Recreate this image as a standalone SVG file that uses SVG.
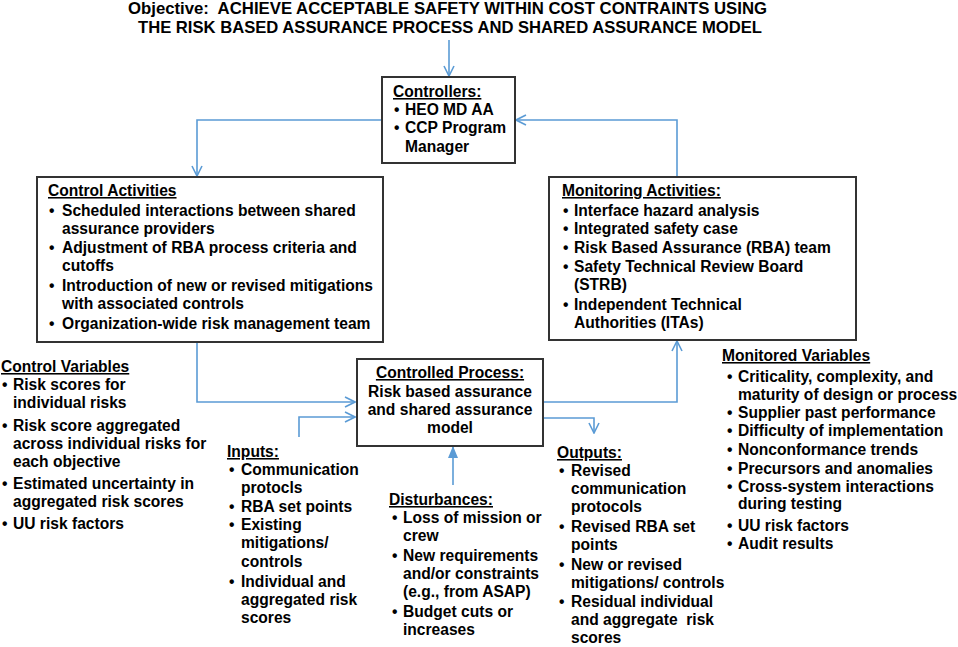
<svg xmlns="http://www.w3.org/2000/svg" width="958" height="647" viewBox="0 0 958 647">
<style>
text { font-family: "Liberation Sans", Arial, Helvetica, sans-serif; font-weight: bold; font-size: 15.6px; fill: #000; }
.h { text-decoration: underline; }
.title { font-size: 16.5px; }
.box { fill: #fff; stroke: #333; stroke-width: 2; }
.c { fill: none; stroke: #5b9bd5; stroke-width: 1.6; }
.mid { text-anchor: middle; }
</style>
<defs>
<marker id="v" viewBox="0 0 12 12" refX="11" refY="6" markerWidth="12" markerHeight="12" markerUnits="userSpaceOnUse" orient="auto">
<path d="M1,1 L11,6 L1,11" fill="none" stroke="#5b9bd5" stroke-width="1.6"/>
</marker>
<marker id="tri" viewBox="0 0 12 12" refX="11" refY="6" markerWidth="12" markerHeight="12" markerUnits="userSpaceOnUse" orient="auto">
<path d="M0,1 L12,6 L0,11 Z" fill="#5b9bd5"/>
</marker>
</defs>

<g id="title">
<text class="title" x="128" y="14" textLength="639" lengthAdjust="spacingAndGlyphs" xml:space="preserve">Objective:  ACHIEVE ACCEPTABLE SAFETY WITHIN COST CONTRAINTS USING</text>
<text class="title" x="138" y="33" textLength="624" lengthAdjust="spacingAndGlyphs">THE RISK BASED ASSURANCE PROCESS AND SHARED ASSURANCE MODEL</text>
</g>

<g id="connectors">
<path class="c" d="M449,40 V76" marker-end="url(#v)"/>
<path class="c" d="M381,120 H197 V176" marker-end="url(#v)"/>
<path class="c" d="M677,177 V120 H516" marker-end="url(#v)"/>
<path class="c" d="M197,343 V402 H355" marker-end="url(#v)"/>
<path class="c" d="M299,437 V417 H355" marker-end="url(#v)"/>
<path class="c" d="M544,402 H677 V341" marker-end="url(#v)"/>
<path class="c" d="M544,418 H594 V433" marker-end="url(#v)"/>
<path class="c" d="M453,485 V447" marker-end="url(#tri)"/>
</g>

<g id="controllers">
<rect class="box" x="382" y="77" width="133" height="86"/>
<text class="h" x="393" y="97">Controllers:</text>
<text x="394" y="115">•</text><text x="405" y="115">HEO MD AA</text>
<text x="394" y="133">•</text><text x="405" y="133">CCP Program</text>
<text x="405" y="152">Manager</text>
</g>

<g id="control-activities">
<rect class="box" x="37" y="177" width="346" height="165"/>
<text class="h" x="48" y="196">Control Activities</text>
<text x="49" y="216">•</text><text x="62" y="216">Scheduled interactions between shared</text>
<text x="62" y="234">assurance providers</text>
<text x="49" y="253">•</text><text x="62" y="253">Adjustment of RBA process criteria and</text>
<text x="62" y="271">cutoffs</text>
<text x="49" y="291">•</text><text x="62" y="291">Introduction of new or revised mitigations</text>
<text x="62" y="309">with associated controls</text>
<text x="49" y="329">•</text><text x="62" y="329">Organization-wide risk management team</text>
</g>

<g id="monitoring-activities">
<rect class="box" x="549" y="177" width="307" height="163"/>
<text class="h" x="562" y="196">Monitoring Activities:</text>
<text x="563" y="216">•</text><text x="574" y="216">Interface hazard analysis</text>
<text x="563" y="234">•</text><text x="574" y="234">Integrated safety case</text>
<text x="563" y="253">•</text><text x="574" y="253">Risk Based Assurance (RBA) team</text>
<text x="563" y="272">•</text><text x="574" y="272">Safety Technical Review Board</text>
<text x="574" y="290">(STRB)</text>
<text x="563" y="310">•</text><text x="574" y="310">Independent Technical</text>
<text x="574" y="328">Authorities (ITAs)</text>
</g>

<g id="controlled-process">
<rect class="box" x="357" y="359" width="186" height="87"/>
<text class="h mid" x="450" y="378">Controlled Process:</text>
<text class="mid" x="450" y="397">Risk based assurance</text>
<text class="mid" x="450" y="415">and shared assurance</text>
<text class="mid" x="450" y="433">model</text>
</g>

<g id="control-variables">
<text class="h" x="1" y="372">Control Variables</text>
<text x="2" y="390">•</text><text x="13" y="390">Risk scores for</text>
<text x="13" y="408">individual risks</text>
<text x="2" y="431">•</text><text x="13" y="431">Risk score aggregated</text>
<text x="13" y="449">across individual risks for</text>
<text x="13" y="467">each objective</text>
<text x="2" y="489">•</text><text x="13" y="489">Estimated uncertainty in</text>
<text x="13" y="507">aggregated risk scores</text>
<text x="2" y="529">•</text><text x="13" y="529">UU risk factors</text>
</g>

<g id="monitored-variables">
<text class="h" x="722" y="361">Monitored Variables</text>
<text x="727" y="382">•</text><text x="738" y="382">Criticality, complexity, and</text>
<text x="738" y="400">maturity of design or process</text>
<text x="727" y="418">•</text><text x="738" y="418">Supplier past performance</text>
<text x="727" y="436">•</text><text x="738" y="436">Difficulty of implementation</text>
<text x="727" y="455">•</text><text x="738" y="455">Nonconformance trends</text>
<text x="727" y="474">•</text><text x="738" y="474">Precursors and anomalies</text>
<text x="727" y="492">•</text><text x="738" y="492">Cross-system interactions</text>
<text x="738" y="509">during testing</text>
<text x="727" y="531">•</text><text x="738" y="531">UU risk factors</text>
<text x="727" y="549">•</text><text x="738" y="549">Audit results</text>
</g>

<g id="inputs">
<text class="h" x="227" y="457">Inputs:</text>
<text x="229" y="475">•</text><text x="241" y="475">Communication</text>
<text x="241" y="493">protocls</text>
<text x="229" y="512">•</text><text x="241" y="512">RBA set points</text>
<text x="229" y="530">•</text><text x="241" y="530">Existing</text>
<text x="241" y="548">mitigations/</text>
<text x="241" y="567">controls</text>
<text x="229" y="587">•</text><text x="241" y="587">Individual and</text>
<text x="241" y="605">aggregated risk</text>
<text x="241" y="623">scores</text>
</g>

<g id="disturbances">
<text class="h" x="389" y="505">Disturbances:</text>
<text x="392" y="523">•</text><text x="403" y="523">Loss of mission or</text>
<text x="403" y="541">crew</text>
<text x="392" y="561">•</text><text x="403" y="561">New requirements</text>
<text x="403" y="579">and/or constraints</text>
<text x="403" y="597">(e.g., from ASAP)</text>
<text x="392" y="617">•</text><text x="403" y="617">Budget cuts or</text>
<text x="403" y="635">increases</text>
</g>

<g id="outputs">
<text class="h" x="557" y="458">Outputs:</text>
<text x="559" y="476">•</text><text x="571" y="476">Revised</text>
<text x="571" y="494">communication</text>
<text x="571" y="512">protocols</text>
<text x="559" y="532">•</text><text x="571" y="532">Revised RBA set</text>
<text x="571" y="550">points</text>
<text x="559" y="570">•</text><text x="571" y="570">New or revised</text>
<text x="571" y="588">mitigations/ controls</text>
<text x="559" y="607">•</text><text x="571" y="607">Residual individual</text>
<text x="571" y="625" xml:space="preserve">and aggregate  risk</text>
<text x="571" y="643">scores</text>
</g>
</svg>
